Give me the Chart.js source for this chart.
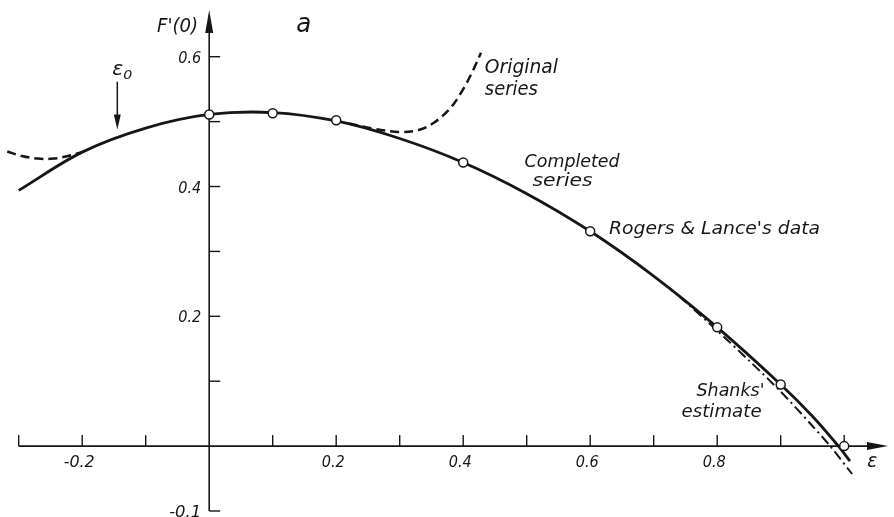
<!DOCTYPE html>
<html>
<head>
<meta charset="utf-8">
<script src="https://cdn.jsdelivr.net/npm/chart.js@4/dist/chart.umd.min.js"></script>
<style>
html,body{margin:0;padding:0;background:#fff;}
canvas{display:block;}
</style>
</head>
<body>
<canvas id="c" width="894" height="517"></canvas>
<script>
// ---------------- data ----------------
const completedX = [-0.3, -0.2, -0.1, 0, 0.1, 0.2, 0.3, 0.4, 0.5, 0.6, 0.7, 0.8, 0.9, 0.95, 0.99, 1.009];
const completedY = [0.394, 0.453, 0.490, 0.511, 0.514, 0.501, 0.474, 0.437, 0.389, 0.331, 0.262, 0.183, 0.095, 0.046, 0.001, -0.023];

const originalLeftX = [-0.318, -0.295, -0.27, -0.245, -0.222, -0.2];
const originalLeftY = [0.454, 0.447, 0.443, 0.443, 0.447, 0.453];
const originalRightX = [0.22, 0.26, 0.30, 0.33, 0.355, 0.38, 0.40, 0.415, 0.428];
const originalRightY = [0.497, 0.489, 0.484, 0.487, 0.499, 0.521, 0.550, 0.578, 0.606];

const shanksX = [0.74, 0.8, 0.85, 0.9, 0.95, 0.978, 1.0125];
const shanksY = [0.231, 0.178, 0.132, 0.084, 0.031, 0.0, -0.043];

const rogersX = [0, 0.1, 0.2, 0.4, 0.6, 0.8, 0.9, 1.0];
const rogersY = [0.511, 0.513, 0.502, 0.437, 0.331, 0.183, 0.095, 0.0];

const xTickMarks = [-0.3, -0.2, -0.1, 0.1, 0.2, 0.3, 0.4, 0.5, 0.6, 0.7, 0.8, 0.9, 1.0];
const yTickMarks = [-0.1, 0.1, 0.2, 0.3, 0.4, 0.5, 0.6];
const xLabelValues = [-0.2, 0.2, 0.4, 0.6, 0.8];
const xLabelTexts = ['-0.2', '0.2', '0.4', '0.6', '0.8'];
const yLabelValues = [-0.1, 0.2, 0.4, 0.6];
const yLabelTexts = ['-0.1', '0.2', '0.4', '0.6'];

// ---------------- styling / layout ----------------
const INK = '#161616';
const FONT = '"DejaVu Sans"';
const X_MIN = -0.32, X_MAX = 1.069, Y_MIN = -0.1, Y_MAX = 0.672;
const X_AXIS_START = -0.3;

const pts = (xs, ys) => xs.map((v, i) => ({x: v, y: ys[i]}));

// annotations: text, data-x of left edge, data-y of baseline, font px, target width px
const notes = [
  {t: "F'(0)", x: -0.0821, y: 0.6385, s: 19, w: 41},
  {t: "a", x: 0.1369, y: 0.6385, s: 26, w: 15},
  {t: "Original", x: 0.4341, y: 0.5754, s: 19, w: 73},
  {t: "series", x: 0.4341, y: 0.5415, s: 19, w: 53},
  {t: "Completed", x: 0.4967, y: 0.4308, s: 18, w: 95},
  {t: "series", x: 0.5092, y: 0.4015, s: 18, w: 60},
  {t: "Rogers & Lance's data", x: 0.6297, y: 0.3262, s: 17, w: 211},
  {t: "Shanks'", x: 0.7674, y: 0.0769, s: 18, w: 68},
  {t: "estimate", x: 0.7439, y: 0.0446, s: 18, w: 80},
  {t: "\u03b5", x: 1.0364, y: -0.0323, s: 19, w: 10},
  {t: "\u03b5", x: -0.1525, y: 0.5723, s: 20, w: 11},
  {t: "0", x: -0.1353, y: 0.5662, s: 13, w: 9}
];
const eps0Arrow = {x: -0.1447, yFrom: 0.5615, yTo: 0.4877};

function fitText(ctx, text, px, py, size, width, align) {
  ctx.font = 'italic ' + size + 'px ' + FONT;
  const w = ctx.measureText(text).width;
  const s = width ? width / w : 1;
  ctx.save();
  ctx.translate(px, py);
  ctx.scale(s, 1);
  ctx.textAlign = 'left';
  ctx.textBaseline = 'alphabetic';
  let ox = 0;
  if (align === 'center') ox = -w / 2;
  else if (align === 'right') ox = -w;
  ctx.fillText(text, ox, 0);
  ctx.restore();
}

const axesPlugin = {
  id: 'axesPlugin',
  beforeDatasetsDraw(chart) {
    const ctx = chart.ctx, x = chart.scales.x, y = chart.scales.y;
    const x0 = x.getPixelForValue(0), y0 = y.getPixelForValue(0);
    ctx.save();
    ctx.strokeStyle = INK; ctx.fillStyle = INK; ctx.lineWidth = 1.6; ctx.lineCap = 'butt';
    // x axis with arrow
    const xs = x.getPixelForValue(X_AXIS_START), xe = x.getPixelForValue(X_MAX);
    ctx.beginPath(); ctx.moveTo(xs, y0); ctx.lineTo(xe - 12, y0); ctx.stroke();
    ctx.beginPath(); ctx.moveTo(xe, y0); ctx.lineTo(xe - 21, y0 - 4); ctx.lineTo(xe - 21, y0 + 4); ctx.closePath(); ctx.fill();
    // y axis with arrow
    const ys = y.getPixelForValue(Y_MIN), ye = y.getPixelForValue(Y_MAX);
    ctx.beginPath(); ctx.moveTo(x0, ys); ctx.lineTo(x0, ye + 12); ctx.stroke();
    ctx.beginPath(); ctx.moveTo(x0, ye); ctx.lineTo(x0 - 4, ye + 23); ctx.lineTo(x0 + 4, ye + 23); ctx.closePath(); ctx.fill();
    // ticks
    ctx.lineWidth = 1.4;
    xTickMarks.forEach(v => {
      const p = x.getPixelForValue(v);
      ctx.beginPath(); ctx.moveTo(p, y0); ctx.lineTo(p, y0 - 11); ctx.stroke();
    });
    yTickMarks.forEach(v => {
      const p = y.getPixelForValue(v);
      ctx.beginPath(); ctx.moveTo(x0, p); ctx.lineTo(x0 + 11, p); ctx.stroke();
    });
    // tick labels
    xLabelValues.forEach((v, i) => {
      const t = xLabelTexts[i];
      fitText(ctx, t, x.getPixelForValue(v) - 3, y0 + 21, 16, t.length > 3 ? 31 : 23, 'center');
    });
    yLabelValues.forEach((v, i) => {
      const t = yLabelTexts[i];
      fitText(ctx, t, x0 - 8, y.getPixelForValue(v) + 6, 16, t.length > 3 ? 32 : 23, 'right');
    });
    ctx.restore();
  },
  afterDraw(chart) {
    const ctx = chart.ctx, x = chart.scales.x, y = chart.scales.y;
    ctx.save();
    ctx.fillStyle = INK; ctx.strokeStyle = INK;
    notes.forEach(n => fitText(ctx, n.t, x.getPixelForValue(n.x), y.getPixelForValue(n.y), n.s, n.w, 'left'));
    // epsilon_0 arrow
    const ax = x.getPixelForValue(eps0Arrow.x);
    const a1 = y.getPixelForValue(eps0Arrow.yFrom), a2 = y.getPixelForValue(eps0Arrow.yTo);
    ctx.lineWidth = 1.5;
    ctx.beginPath(); ctx.moveTo(ax, a1); ctx.lineTo(ax, a2 - 10); ctx.stroke();
    ctx.beginPath(); ctx.moveTo(ax, a2); ctx.lineTo(ax - 3.5, a2 - 15); ctx.lineTo(ax + 3.5, a2 - 15); ctx.closePath(); ctx.fill();
    ctx.restore();
  }
};

new Chart(document.getElementById('c'), {
  type: 'scatter',
  data: {
    datasets: [
      {label: 'Rogers & Lance\'s data', data: pts(rogersX, rogersY), showLine: false, order: 0,
       pointRadius: 4.5, pointBorderWidth: 1.5, pointBackgroundColor: '#fff', pointBorderColor: INK},
      {label: 'Completed series', data: pts(completedX, completedY), showLine: true, order: 1,
       borderColor: INK, borderWidth: 2.8, pointRadius: 0, tension: 0.35},
      {label: 'Shanks\' estimate', data: pts(shanksX, shanksY), showLine: true, order: 2,
       borderColor: INK, borderWidth: 2, borderDash: [10, 4, 2, 4], pointRadius: 0, tension: 0.3},
      {label: 'Original series', data: pts(originalLeftX, originalLeftY), showLine: true, order: 3,
       borderColor: INK, borderWidth: 2.5, borderDash: [9, 5], pointRadius: 0, tension: 0.35},
      {label: 'Original series (upper)', data: pts(originalRightX, originalRightY), showLine: true, order: 3,
       borderColor: INK, borderWidth: 2.5, borderDash: [9, 5], pointRadius: 0, tension: 0.35}
    ]
  },
  options: {
    responsive: false,
    animation: false,
    events: [],
    layout: {padding: {left: 5, right: 1, top: 10, bottom: 5}},
    scales: {
      x: {type: 'linear', min: X_MIN, max: X_MAX, display: false},
      y: {type: 'linear', min: Y_MIN, max: Y_MAX, display: false}
    },
    plugins: {legend: {display: false}, tooltip: {enabled: false}}
  },
  plugins: [axesPlugin]
});
</script>
</body>
</html>
